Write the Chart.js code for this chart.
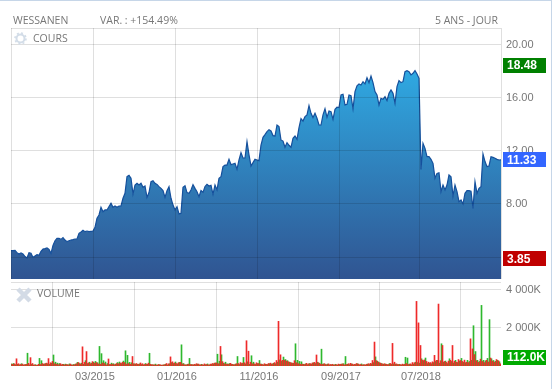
<!DOCTYPE html>
<html><head><meta charset="utf-8">
<style>
html,body{margin:0;padding:0;background:#fff;width:553px;height:389px;overflow:hidden}
#frame{position:absolute;left:0;top:0;width:551px;height:389px;border-top:1px solid #c6d6e8;border-right:1px solid #c6d6e8;box-sizing:content-box}
canvas{position:absolute;left:0}
.t{position:absolute;font:10.5px "Open Sans",sans-serif;color:#777;white-space:nowrap;line-height:12px;z-index:3}
svg{position:absolute;z-index:3}
</style></head><body>
<div id="frame"></div>
<canvas id="price" width="553" height="281" style="top:0"></canvas>
<canvas id="vol" width="553" height="107" style="top:282px"></canvas>
<div class="t" style="left:13px;top:14px">WESSANEN</div>
<div class="t" style="left:100px;top:14px">VAR. : +154.49%</div>
<div class="t" style="left:435px;top:14px">5 ANS - JOUR</div>
<div class="t" style="left:33px;top:32px">COURS</div>
<div class="t" style="left:37px;top:287px">VOLUME</div>
<svg style="left:14px;top:32px" width="13" height="13" viewBox="0 0 13 13"><circle cx="6.5" cy="6.5" r="4" fill="none" stroke="#d3dde8" stroke-width="2"/><circle cx="6.5" cy="6.5" r="5.5" fill="none" stroke="#d3dde8" stroke-width="1.6" stroke-dasharray="2 2.3"/></svg>
<svg style="left:16px;top:287px" width="16" height="16" viewBox="0 0 16 16"><path d="M2 2L14 14M14 2L2 14" stroke="#d3dbe6" stroke-width="4.5"/></svg>
<script src="https://cdn.jsdelivr.net/npm/chart.js@4"></script>
<script>
const tickDates = {41:"03/2015",82:"01/2016",123:"11/2016",164:"09/2017",204:"07/2018"};
const priceTicks = [4,8,12,16,20];
const volumeTicks = [2000,4000];
const priceBadges = [18.48,11.33,3.85];
const priceBadgeColors = ["#008000","#3366ff","#c00000"];
const volumeBadge = 112;
const prices = [
4.48,4.48,4.50,4.33,4.23,4.30,4.23,4.03,3.92,4.33,4.28,3.97,4.08,4.18,4.13,4.43,4.60,4.63,4.68,4.58,
4.28,4.88,5.23,5.41,5.41,5.33,5.46,5.28,5.16,5.23,5.28,5.31,5.36,5.36,5.79,5.89,6.01,5.91,5.96,5.91,
5.94,5.96,6.24,6.92,7.17,7.75,7.42,7.55,7.55,7.80,8.05,7.75,7.85,7.75,7.85,7.85,8.43,8.81,10.06,10.16,
9.94,8.75,9.43,9.56,9.43,9.56,9.26,9.36,8.50,8.86,9.69,9.76,9.56,9.48,9.31,9.18,9.01,8.50,9.01,9.31,
8.43,7.92,7.55,7.80,7.25,7.30,9.26,9.38,8.86,8.81,9.06,9.46,9.18,8.93,8.55,9.01,8.88,9.31,9.48,9.36,
9.41,8.73,9.43,9.06,9.94,10.06,10.82,10.94,10.94,11.37,10.97,11.02,11.07,10.62,11.32,11.87,11.47,11.47,
12.70,11.70,10.87,11.12,11.37,11.32,11.27,12.45,13.03,13.23,13.46,13.61,13.51,13.16,13.13,13.96,13.84,12.83,
12.75,12.28,12.63,12.43,12.28,12.96,13.13,12.88,13.76,14.44,14.26,14.59,14.72,15.42,14.84,14.52,14.84,14.47,
13.96,13.96,14.72,15.19,14.54,15.02,14.97,14.39,15.14,15.30,15.27,16.23,16.28,15.47,15.52,16.23,16.18,15.19,
16.48,16.91,17.06,16.98,17.23,17.06,17.53,17.16,
17.66,17.16,16.48,16.23,15.47,15.97,15.90,16.10,15.80,16.35,16.60,16.35,15.60,16.86,17.31,17.16,17.23,17.99,
18.06,17.99,17.74,17.86,18.06,17.81,17.48,10.60,12.58,12.20,11.57,11.57,11.37,11.07,9.94,10.31,10.36,8.93,
9.43,9.06,9.43,10.19,10.06,8.60,9.43,8.93,8.18,8.30,8.00,8.81,9.01,9.01,8.96,7.67,9.69,8.81,9.18,9.31,
11.77,11.20,10.82,10.87,11.57,11.52,11.45,11.37,11.32,11.33];
const volumeDown = [
130,90,110,380,120,80,100,70,90,140,440,130,60,40,90,80,130,110,150,390,
170,240,120,100,70,120,90,60,80,60,100,50,70,120,180,100,1010,190,760,160,
120,230,150,180,110,90,160,130,60,370,80,100,70,130,120,150,200,180,100,130,
90,500,110,130,90,160,120,80,100,150,90,70,60,50,80,60,50,70,130,110,
480,220,160,130,170,190,110,70,60,100,80,70,90,120,100,60,70,110,80,60,
100,130,150,160,120,1030,230,120,100,90,140,90,70,120,130,180,150,170,1330,780,
200,120,110,170,130,100,80,120,90,130,150,110,180,290,2350,590,300,310,260,220,
180,150,280,170,120,90,100,80,140,110,120,160,190,580,170,100,90,120,70,110,
80,90,60,70,100,90,110,60,80,120,140,100,90,130,100,80,60,70,90,120,
140,290,1260,280,200,150,110,120,90,80,130,1190,200,110,80,70,100,90,130,80,
110,180,170,3400,2270,1080,310,320,240,200,180,220,560,300,3260,280,1080,240,190,260,
300,1080,250,200,340,290,240,310,200,180,1430,900,600,280,190,360,240,180,300,210,420,260,200,340,270,120];
const volumeUp = [
100,130,70,90,60,120,50,80,672,60,90,50,70,40,400,280,90,130,120,90,
150,580,200,150,130,60,90,100,70,110,60,80,100,190,130,150,90,280,130,200,
150,200,240,170,1030,650,280,210,130,80,150,120,90,180,210,130,260,800,560,190,
170,120,100,90,110,80,60,130,90,670,70,60,100,50,70,40,60,90,50,120,
180,130,210,110,190,1115,130,60,90,400,80,60,70,100,60,90,50,70,110,60,
90,110,160,620,250,590,150,200,110,130,90,70,100,500,80,130,450,110,220,90,
540,200,80,130,290,100,60,90,80,120,100,140,120,200,320,260,470,340,280,200,
160,140,1170,300,240,220,90,110,70,130,100,170,130,200,140,885,110,80,100,60,
70,60,90,50,80,100,120,500,90,70,110,60,80,120,60,110,70,50,100,80,
110,180,480,250,170,130,90,100,70,130,90,110,100,80,90,60,70,460,420,100,
70,100,200,180,150,380,280,420,130,150,120,180,240,300,150,1170,200,260,130,380,
240,160,300,180,260,400,190,170,300,240,300,2120,760,300,240,3190,300,270,400,2440,380,290,250,300,220,110];

const labels = prices.map((_, i) => tickDates[i] || "");
const GRID = "rgba(0,0,0,0.125)";
const GRAY = "#777";
const TICK_FONT = {family:'"Liberation Sans",Arial,sans-serif',size:11};
const keepX = s => { const n = labels.length-1; s.ticks = s.ticks.filter(t => t.value===0 || t.value===n || tickDates[t.value]); };
const noPad = s => { s.paddingTop=0; s.paddingBottom=0; s.paddingLeft=0; s.paddingRight=0; };
function badge(ctx, y, color, text){
  ctx.save();
  ctx.fillStyle = color; ctx.fillRect(503, Math.round(y-7.5), 43, 15);
  ctx.fillStyle = "#fff"; ctx.font = 'bold 12px "Liberation Sans",Arial,sans-serif';
  ctx.textAlign = "left"; ctx.textBaseline = "middle";
  ctx.fillText(text, 507, y+0.5); ctx.restore();
}
const yCommon = (values, fmt, z) => ({
  position:"right",
  afterBuildTicks: s => { s.ticks = values.map(v => ({value:v})).concat([{value:s.max}]); },
  afterFit: s => { s.width = 52; noPad(s); },
  grid:{color:GRID,tickLength:0,drawTicks:false,z},
  border:{display:false},
  ticks:{color:GRAY,font:TICK_FONT,padding:5,autoSkip:false,
    callback: v => values.includes(v) ? fmt(v) : ""}
});

new Chart(document.getElementById("price"),{
  type:"line",
  data:{labels,datasets:[{
    data:prices,borderColor:"#15509c",borderWidth:1.2,pointRadius:0,tension:0,fill:"start",
    backgroundColor:c=>{
      const a=c.chart.chartArea; if(!a) return "#2f7fc0";
      const g=c.chart.ctx.createLinearGradient(0,70,0,a.bottom);
      g.addColorStop(0,"#2fa9e2"); g.addColorStop(1,"#305491"); return g;
    }
  }]},
  options:{responsive:false,animation:false,
    layout:{padding:{left:11,top:28,bottom:2,right:0}},
    plugins:{legend:{display:false},tooltip:{enabled:false}},
    scales:{
      x:{type:"category",offset:false,afterBuildTicks:keepX,afterFit:s=>{s.height=0;noPad(s);},
        grid:{color:GRID,drawTicks:false,tickLength:0,z:1},border:{display:false},
        ticks:{display:false,autoSkip:false,maxRotation:0}},
      y:Object.assign({min:2.34,max:21.28},yCommon(priceTicks,v=>v.toFixed(2),1))
    }
  },
  plugins:[{id:"badges",afterDraw(ch){
    priceBadges.forEach((v,i)=>badge(ch.ctx,ch.scales.y.getPixelForValue(v),priceBadgeColors[i],v.toFixed(2)));
  }}]
});

new Chart(document.getElementById("vol"),{
  type:"bar",
  data:{labels,datasets:[
    {data:volumeDown,backgroundColor:"#ee2a2a",barThickness:1,order:1},
    {data:volumeUp,backgroundColor:"#2eb82e",barThickness:1,order:2}
  ]},
  options:{responsive:false,animation:false,
    layout:{padding:{left:11,top:0,bottom:0,right:0}},
    plugins:{legend:{display:false},tooltip:{enabled:false}},
    scales:{
      x:{type:"category",offset:false,afterBuildTicks:keepX,afterFit:s=>{s.height=23;noPad(s);},
        grid:{color:GRID,drawTicks:false,tickLength:0,z:-1},border:{display:false},
        ticks:{color:GRAY,font:TICK_FONT,padding:4,autoSkip:false,maxRotation:0,labelOffset:2,
          callback:function(v){return labels[v];}}},
      y:Object.assign({min:0,max:4421},yCommon(volumeTicks,v=>(v/1000)+" 000K",-1))
    }
  },
  plugins:[{id:"volBadge",afterDraw(ch){
    badge(ch.ctx,ch.chartArea.bottom-8.5,"#00aa00",volumeBadge.toFixed(1)+"K");
  }}]
});
</script></body></html>
